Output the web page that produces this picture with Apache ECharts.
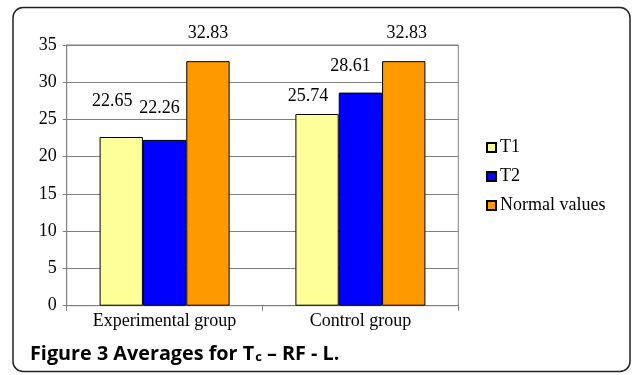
<!DOCTYPE html>
<html>
<head>
<meta charset="utf-8">
<script src="https://cdn.jsdelivr.net/npm/echarts@6/dist/echarts.min.js"></script>
<style>
html,body{margin:0;padding:0;background:#fff;}
#c{width:632px;height:375px;}
</style>
</head>
<body>
<div id="c"></div>
<script>
const categories = ['Experimental group', 'Control group'];
const t1Values = [22.65, 25.74];
const t2Values = [22.26, 28.61];
const normalValues = [32.83, 32.83];
const seriesNames = ['T1', 'T2', 'Normal values'];
const yTicks = { min: 0, max: 35, interval: 5 };

// label placement tweaks (style only)
const labelShift = {
  'T1': [[-9, -22], [-9, -4]],
  'T2': [[-5, -17.6], [-10, -12]],
  'Normal values': [[0, -13.8], [3, -13.8]]
};
const colors = { 'T1': '#FFFF99', 'T2': '#0000FF', 'Normal values': '#FF9900' };
const serif = '"Liberation Serif", "Times New Roman", serif';

function makeSeries(name, values) {
  return {
    name: name,
    type: 'bar',
    barGap: '0%',
    barCategoryGap: '33.6%',
    itemStyle: { color: colors[name], borderColor: '#000', borderWidth: 1 },
    data: values.map((v, i) => ({
      value: v,
      label: { offset: labelShift[name][i] }
    })),
    label: {
      show: true,
      position: 'top',
      distance: 5,
      fontFamily: serif,
      fontSize: 18,
      color: '#000',
      formatter: p => p.value.toFixed(2)
    }
  };
}

const chart = echarts.init(document.getElementById('c'), null, { renderer: 'canvas' });
chart.setOption({
  animation: false,
  backgroundColor: '#fff',
  grid: { left: 66.7, right: 173.7, top: 45, bottom: 69.3, show: true, borderColor: '#808080', borderWidth: 1, backgroundColor: 'transparent' },
  legend: {
    orient: 'vertical',
    left: 486,
    top: 138.5,
    padding: 0,
    itemWidth: 9,
    itemHeight: 9,
    itemGap: 11,
    icon: 'rect',
    textStyle: { fontFamily: serif, fontSize: 18, color: '#000', padding: [0, 0, 0, -1] },
    data: seriesNames
  },
  xAxis: {
    type: 'category',
    data: categories,
    axisLine: { lineStyle: { color: '#808080', width: 1 } },
    axisTick: { show: true, length: 5, lineStyle: { color: '#808080' } },
    axisLabel: { fontFamily: serif, fontSize: 18, color: '#000', margin: 7 }
  },
  yAxis: {
    type: 'value',
    min: yTicks.min,
    max: yTicks.max,
    interval: yTicks.interval,
    axisLine: { show: true, lineStyle: { color: '#808080', width: 1 } },
    axisTick: { show: true, length: 4, lineStyle: { color: '#808080' } },
    splitLine: { show: true, lineStyle: { color: '#808080', width: 1 } },
    axisLabel: { fontFamily: serif, fontSize: 18, color: '#000', margin: 10 }
  },
  series: [
    makeSeries('T1', t1Values),
    makeSeries('T2', t2Values),
    makeSeries('Normal values', normalValues)
  ],
  graphic: [
    {
      type: 'rect',
      shape: { x: 13, y: 7.5, width: 617, height: 364, r: 10 },
      style: { fill: 'none', stroke: '#222', lineWidth: 1.5 },
      silent: true
    },
    {
      type: 'text',
      left: 30,
      top: 344,
      style: {
        text: '{b|Figure 3 Averages for T}{s|c}{b| – RF - L.}',
        rich: {
          b: { fontFamily: '"Open Sans", "Noto Sans", sans-serif', fontWeight: 'bold', fontSize: 19.8, color: '#222', verticalAlign: 'bottom' },
          s: { fontFamily: '"Open Sans", "Noto Sans", sans-serif', fontWeight: 'bold', fontSize: 13, color: '#222', padding: [9, 0, 0, 1], verticalAlign: 'bottom' }
        }
      }
    }
  ]
});
</script>
</body>
</html>
